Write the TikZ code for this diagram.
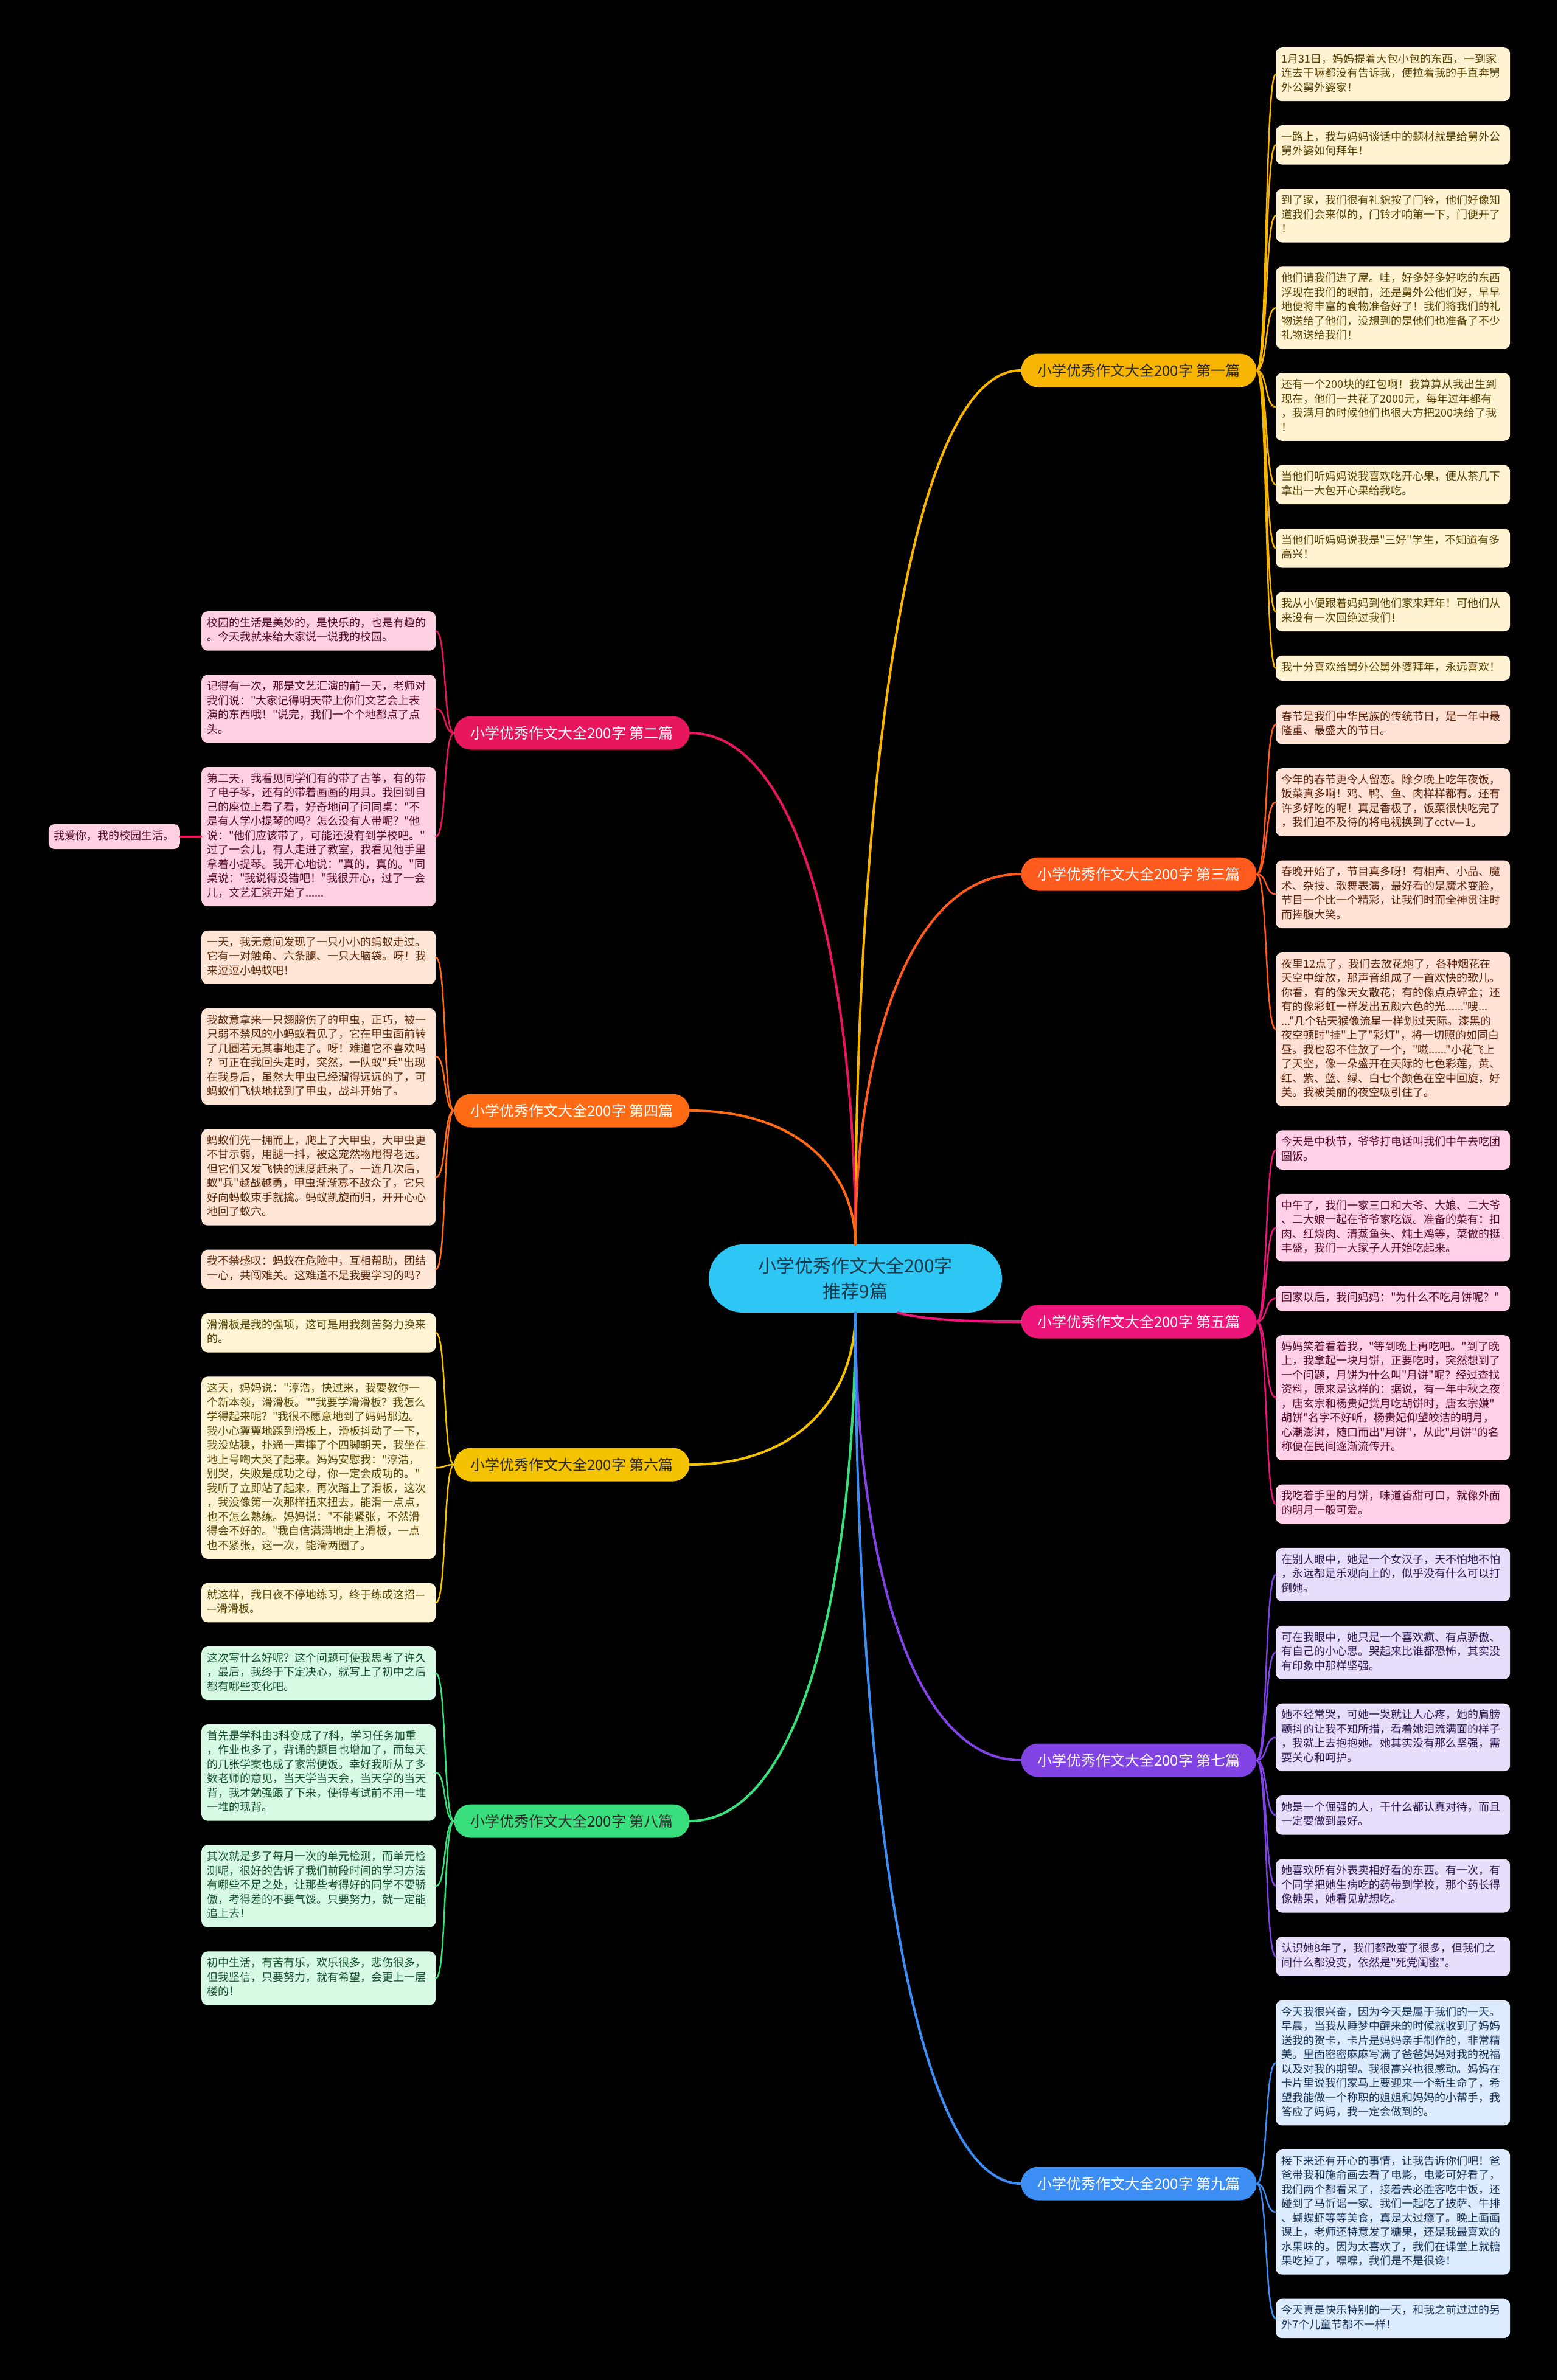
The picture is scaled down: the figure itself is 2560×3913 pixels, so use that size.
\documentclass[tikz,border=0pt]{standalone}
\usepackage{fontspec}
\setmainfont{Noto Sans CJK SC}[Ligatures=TeXOff]
\usetikzlibrary{positioning, calc}
\definecolor{yel}{HTML}{F7B500}
\definecolor{yelbg}{HTML}{FFF3D1}
\definecolor{pnk}{HTML}{E8175D}
\definecolor{pnkbg}{HTML}{FFCFE2}
\definecolor{org}{HTML}{FF5B1E}
\definecolor{orgbg}{HTML}{FFE2D5}
\definecolor{amb}{HTML}{FF6B14}
\definecolor{ambbg}{HTML}{FFE5D6}
\definecolor{mag}{HTML}{EE157A}
\definecolor{magbg}{HTML}{FFD0E7}
\definecolor{gld}{HTML}{F5C200}
\definecolor{gldbg}{HTML}{FFF4D4}
\definecolor{pur}{HTML}{8143E4}
\definecolor{purbg}{HTML}{E7DEFB}
\definecolor{grn}{HTML}{3ADF7D}
\definecolor{grnbg}{HTML}{D7FAE5}
\definecolor{blu}{HTML}{3D8EF4}
\definecolor{blubg}{HTML}{DDEBFF}
\definecolor{cya}{HTML}{2EC6F5}
\definecolor{cyatx}{HTML}{1A3A4A}
\tikzset{
  every picture/.style={line cap=round, x=1pt, y=1pt},
  leaf/.style={fill=#1bg, text=#1!35!black, rounded corners=10pt, align=left, inner xsep=9pt, inner ysep=8.75pt,
    font=\fontsize{18}{23.5}\selectfont, execute at begin node=\strut, execute at end node=\strut},
  wide/.style={text width=367pt},
  pian/.style={fill=#1, text=white, rounded corners=27.5pt, minimum width=387pt, minimum height=55pt, inner sep=0pt,
    font=\fontsize{24}{28}\selectfont},
  dark/.style={text=black!85},
  stem/.style={draw=#1, line width=4pt},
  twig/.style={draw=#1, line width=2.5pt},
}

\begin{document}
\begin{tikzpicture}
  \fill[black] (0,0) rectangle (2560,-3913);
  % centre
  \node[fill=cya, text=cyatx, rounded corners=56pt, minimum width=482pt, minimum height=112pt, align=center,
    font=\fontsize{30}{42}\selectfont] (root) at (1406,-2102) {小学优秀作文大全200字\\推荐9篇};
  % branches
  \node[pian=yel, dark] (p1) at (1872,-609) {小学优秀作文大全200字 第一篇};
  \node[pian=pnk] (p2) at (940,-1205) {小学优秀作文大全200字 第二篇};
  \node[pian=org] (p3) at (1872,-1437) {小学优秀作文大全200字 第三篇};
  \node[pian=amb] (p4) at (940,-1826) {小学优秀作文大全200字 第四篇};
  \node[pian=mag] (p5) at (1872,-2173) {小学优秀作文大全200字 第五篇};
  \node[pian=gld, dark] (p6) at (940,-2408) {小学优秀作文大全200字 第六篇};
  \node[pian=pur] (p7) at (1872,-2894) {小学优秀作文大全200字 第七篇};
  \node[pian=grn, dark] (p8) at (940,-2994) {小学优秀作文大全200字 第八篇};
  \node[pian=blu] (p9) at (1872,-3590) {小学优秀作文大全200字 第九篇};

  % right column
  \node[leaf=yel, wide, anchor=north west] (p1a) at (2097,-78) {1月31日，妈妈提着大包小包的东西，一到家\\连去干嘛都没有告诉我，便拉着我的手直奔舅\\外公舅外婆家！};
  \node[leaf=yel, wide, below=39.5pt of p1a] (p1b) {一路上，我与妈妈谈话中的题材就是给舅外公\\舅外婆如何拜年！};
  \node[leaf=yel, wide, below=39.5pt of p1b] (p1c) {到了家，我们很有礼貌按了门铃，他们好像知\\道我们会来似的，门铃才响第一下，门便开了\\！};
  \node[leaf=yel, wide, below=39.5pt of p1c] (p1d) {他们请我们进了屋。哇，好多好多好吃的东西\\浮现在我们的眼前，还是舅外公他们好，早早\\地便将丰富的食物准备好了！我们将我们的礼\\物送给了他们，没想到的是他们也准备了不少\\礼物送给我们！};
  \node[leaf=yel, wide, below=39.5pt of p1d] (p1e) {还有一个200块的红包啊！我算算从我出生到\\现在，他们一共花了2000元，每年过年都有\\，我满月的时候他们也很大方把200块给了我\\！};
  \node[leaf=yel, wide, below=39.5pt of p1e] (p1f) {当他们听妈妈说我喜欢吃开心果，便从茶几下\\拿出一大包开心果给我吃。};
  \node[leaf=yel, wide, below=39.5pt of p1f] (p1g) {当他们听妈妈说我是"三好"学生，不知道有多\\高兴！};
  \node[leaf=yel, wide, below=39.5pt of p1g] (p1h) {我从小便跟着妈妈到他们家来拜年！可他们从\\来没有一次回绝过我们！};
  \node[leaf=yel, wide, below=39.5pt of p1h] (p1i) {我十分喜欢给舅外公舅外婆拜年，永远喜欢！};

  \node[leaf=org, wide, below=39.5pt of p1i] (p3a) {春节是我们中华民族的传统节日，是一年中最\\隆重、最盛大的节日。};
  \node[leaf=org, wide, below=39.5pt of p3a] (p3b) {今年的春节更令人留恋。除夕晚上吃年夜饭，\\饭菜真多啊！鸡、鸭、鱼、肉样样都有。还有\\许多好吃的呢！真是香极了，饭菜很快吃完了\\，我们迫不及待的将电视换到了cctv—1。};
  \node[leaf=org, wide, below=39.5pt of p3b] (p3c) {春晚开始了，节目真多呀！有相声、小品、魔\\术、杂技、歌舞表演，最好看的是魔术变脸，\\节目一个比一个精彩，让我们时而全神贯注时\\而捧腹大笑。};
  \node[leaf=org, wide, below=39.5pt of p3c] (p3d) {夜里12点了，我们去放花炮了，各种烟花在\\天空中绽放，那声音组成了一首欢快的歌儿。\\你看，有的像天女散花；有的像点点碎金；还\\有的像彩虹一样发出五颜六色的光......"嗖...\\..."几个钻天猴像流星一样划过天际。漆黑的\\夜空顿时"挂"上了"彩灯"，将一切照的如同白\\昼。我也忍不住放了一个，"嗞......"小花飞上\\了天空，像一朵盛开在天际的七色彩莲，黄、\\红、紫、蓝、绿、白七个颜色在空中回旋，好\\美。我被美丽的夜空吸引住了。};

  \node[leaf=mag, wide, below=39.5pt of p3d] (p5a) {今天是中秋节，爷爷打电话叫我们中午去吃团\\圆饭。};
  \node[leaf=mag, wide, below=39.5pt of p5a] (p5b) {中午了，我们一家三口和大爷、大娘、二大爷\\、二大娘一起在爷爷家吃饭。准备的菜有：扣\\肉、红烧肉、清蒸鱼头、炖土鸡等，菜做的挺\\丰盛，我们一大家子人开始吃起来。};
  \node[leaf=mag, wide, below=39.5pt of p5b] (p5c) {回家以后，我问妈妈："为什么不吃月饼呢？"};
  \node[leaf=mag, wide, below=39.5pt of p5c] (p5d) {妈妈笑着看着我，"等到晚上再吃吧。"到了晚\\上，我拿起一块月饼，正要吃时，突然想到了\\一个问题，月饼为什么叫"月饼"呢？经过查找\\资料，原来是这样的：据说，有一年中秋之夜\\，唐玄宗和杨贵妃赏月吃胡饼时，唐玄宗嫌"\\胡饼"名字不好听，杨贵妃仰望皎洁的明月，\\心潮澎湃，随口而出"月饼"，从此"月饼"的名\\称便在民间逐渐流传开。};
  \node[leaf=mag, wide, below=39.5pt of p5d] (p5e) {我吃着手里的月饼，味道香甜可口，就像外面\\的明月一般可爱。};

  \node[leaf=pur, wide, below=39.5pt of p5e] (p7a) {在别人眼中，她是一个女汉子，天不怕地不怕\\，永远都是乐观向上的，似乎没有什么可以打\\倒她。};
  \node[leaf=pur, wide, below=39.5pt of p7a] (p7b) {可在我眼中，她只是一个喜欢疯、有点骄傲、\\有自己的小心思。哭起来比谁都恐怖，其实没\\有印象中那样坚强。};
  \node[leaf=pur, wide, below=39.5pt of p7b] (p7c) {她不经常哭，可她一哭就让人心疼，她的肩膀\\颤抖的让我不知所措，看着她泪流满面的样子\\，我就上去抱抱她。她其实没有那么坚强，需\\要关心和呵护。};
  \node[leaf=pur, wide, below=39.5pt of p7c] (p7d) {她是一个倔强的人，干什么都认真对待，而且\\一定要做到最好。};
  \node[leaf=pur, wide, below=39.5pt of p7d] (p7e) {她喜欢所有外表卖相好看的东西。有一次，有\\个同学把她生病吃的药带到学校，那个药长得\\像糖果，她看见就想吃。};
  \node[leaf=pur, wide, below=39.5pt of p7e] (p7f) {认识她8年了，我们都改变了很多，但我们之\\间什么都没变，依然是"死党闺蜜"。};

  \node[leaf=blu, wide, below=39.5pt of p7f] (p9a) {今天我很兴奋，因为今天是属于我们的一天。\\早晨，当我从睡梦中醒来的时候就收到了妈妈\\送我的贺卡，卡片是妈妈亲手制作的，非常精\\美。里面密密麻麻写满了爸爸妈妈对我的祝福\\以及对我的期望。我很高兴也很感动。妈妈在\\卡片里说我们家马上要迎来一个新生命了，希\\望我能做一个称职的姐姐和妈妈的小帮手，我\\答应了妈妈，我一定会做到的。};
  \node[leaf=blu, wide, below=39.5pt of p9a] (p9b) {接下来还有开心的事情，让我告诉你们吧！爸\\爸带我和施俞画去看了电影，电影可好看了，\\我们两个都看呆了，接着去必胜客吃中饭，还\\碰到了马忻谣一家。我们一起吃了披萨、牛排\\、蝴蝶虾等等美食，真是太过瘾了。晚上画画\\课上，老师还特意发了糖果，还是我最喜欢的\\水果味的。因为太喜欢了，我们在课堂上就糖\\果吃掉了，嘿嘿，我们是不是很谗！};
  \node[leaf=blu, wide, below=39.5pt of p9b] (p9c) {今天真是快乐特别的一天，和我之前过过的另\\外7个儿童节都不一样！};

  % left column
  \node[leaf=pnk, wide, anchor=north west] (p2a) at (331,-1005) {校园的生活是美妙的，是快乐的，也是有趣的\\。今天我就来给大家说一说我的校园。};
  \node[leaf=pnk, wide, below=39.5pt of p2a] (p2b) {记得有一次，那是文艺汇演的前一天，老师对\\我们说："大家记得明天带上你们文艺会上表\\演的东西哦！"说完，我们一个个地都点了点\\头。};
  \node[leaf=pnk, wide, below=39.5pt of p2b] (p2c) {第二天，我看见同学们有的带了古筝，有的带\\了电子琴，还有的带着画画的用具。我回到自\\己的座位上看了看，好奇地问了问同桌："不\\是有人学小提琴的吗？怎么没有人带呢？"他\\说："他们应该带了，可能还没有到学校吧。"\\过了一会儿，有人走进了教室，我看见他手里\\拿着小提琴。我开心地说："真的，真的。"同\\桌说："我说得没错吧！"我很开心，过了一会\\儿，文艺汇演开始了......};
  \node[leaf=pnk, left=35pt of p2c] (love) {我爱你，我的校园生活。};

  \node[leaf=amb, wide, below=39.5pt of p2c] (p4a) {一天，我无意间发现了一只小小的蚂蚁走过。\\它有一对触角、六条腿、一只大脑袋。呀！我\\来逗逗小蚂蚁吧！};
  \node[leaf=amb, wide, below=39.5pt of p4a] (p4b) {我故意拿来一只翅膀伤了的甲虫，正巧，被一\\只弱不禁风的小蚂蚁看见了，它在甲虫面前转\\了几圈若无其事地走了。呀！难道它不喜欢吗\\？可正在我回头走时，突然，一队蚁"兵"出现\\在我身后，虽然大甲虫已经溜得远远的了，可\\蚂蚁们飞快地找到了甲虫，战斗开始了。};
  \node[leaf=amb, wide, below=39.5pt of p4b] (p4c) {蚂蚁们先一拥而上，爬上了大甲虫，大甲虫更\\不甘示弱，用腿一抖，被这宠然物甩得老远。\\但它们又发飞快的速度赶来了。一连几次后，\\蚁"兵"越战越勇，甲虫渐渐寡不敌众了，它只\\好向蚂蚁束手就擒。蚂蚁凯旋而归，开开心心\\地回了蚁穴。};
  \node[leaf=amb, wide, below=39.5pt of p4c] (p4d) {我不禁感叹：蚂蚁在危险中，互相帮助，团结\\一心，共闯难关。这难道不是我要学习的吗？};

  \node[leaf=gld, wide, below=39.5pt of p4d] (p6a) {滑滑板是我的强项，这可是用我刻苦努力换来\\的。};
  \node[leaf=gld, wide, below=39.5pt of p6a] (p6b) {这天，妈妈说："淳浩，快过来，我要教你一\\个新本领，滑滑板。""我要学滑滑板？我怎么\\学得起来呢？"我很不愿意地到了妈妈那边。\\我小心翼翼地踩到滑板上，滑板抖动了一下，\\我没站稳，扑通一声摔了个四脚朝天，我坐在\\地上号啕大哭了起来。妈妈安慰我："淳浩，\\别哭，失败是成功之母，你一定会成功的。"\\我听了立即站了起来，再次踏上了滑板，这次\\，我没像第一次那样扭来扭去，能滑一点点，\\也不怎么熟练。妈妈说："不能紧张，不然滑\\得会不好的。"我自信满满地走上滑板，一点\\也不紧张，这一次，能滑两圈了。};
  \node[leaf=gld, wide, below=39.5pt of p6b] (p6c) {就这样，我日夜不停地练习，终于练成这招—\\—滑滑板。};

  \node[leaf=grn, wide, below=39.5pt of p6c] (p8a) {这次写什么好呢？这个问题可使我思考了许久\\，最后，我终于下定决心，就写上了初中之后\\都有哪些变化吧。};
  \node[leaf=grn, wide, below=39.5pt of p8a] (p8b) {首先是学科由3科变成了7科，学习任务加重\\，作业也多了，背诵的题目也增加了，而每天\\的几张学案也成了家常便饭。幸好我听从了多\\数老师的意见，当天学当天会，当天学的当天\\背，我才勉强跟了下来，使得考试前不用一堆\\一堆的现背。};
  \node[leaf=grn, wide, below=39.5pt of p8b] (p8c) {其次就是多了每月一次的单元检测，而单元检\\测呢，很好的告诉了我们前段时间的学习方法\\有哪些不足之处，让那些考得好的同学不要骄\\傲，考得差的不要气馁。只要努力，就一定能\\追上去！};
  \node[leaf=grn, wide, below=39.5pt of p8c] (p8d) {初中生活，有苦有乐，欢乐很多，悲伤很多，\\但我坚信，只要努力，就有希望，会更上一层\\楼的！};

  % centre to branches
  \draw[stem=yel] (root.north) .. controls ($(root.north)!0.5!(root.north |- p1.west)$) and ($(p1.west)!0.7!(root.north |- p1.west)$) .. (p1.west);
  \draw[stem=pnk] (root.north) .. controls ($(root.north)!0.5!(root.north |- p2.east)$) and ($(p2.east)!0.7!(root.north |- p2.east)$) .. (p2.east);
  \draw[stem=org] (root.north) .. controls ($(root.north)!0.5!(root.north |- p3.west)$) and ($(p3.west)!0.7!(root.north |- p3.west)$) .. (p3.west);
  \draw[stem=amb] (root.north) .. controls ($(root.north)!0.5!(root.north |- p4.east)$) and ($(p4.east)!0.7!(root.north |- p4.east)$) .. (p4.east);
  \draw[stem=mag] ([xshift=70pt]root.south) .. controls +(45,-12) and +(-90,0) .. (p5.west);
  \draw[stem=gld] (root.south) .. controls ($(root.south)!0.5!(root.south |- p6.east)$) and ($(p6.east)!0.7!(root.south |- p6.east)$) .. (p6.east);
  \draw[stem=pur] (root.south) .. controls ($(root.south)!0.5!(root.south |- p7.west)$) and ($(p7.west)!0.7!(root.south |- p7.west)$) .. (p7.west);
  \draw[stem=grn] (root.south) .. controls ($(root.south)!0.5!(root.south |- p8.east)$) and ($(p8.east)!0.7!(root.south |- p8.east)$) .. (p8.east);
  \draw[stem=blu] (root.south) .. controls ($(root.south)!0.5!(root.south |- p9.west)$) and ($(p9.west)!0.7!(root.south |- p9.west)$) .. (p9.west);

  % branches to leaves
  \foreach \k in {a,...,i} \draw[twig=yel] (p1.east) .. controls +(18,0) and +(-18,0) .. (p1\k.west);
  \foreach \k in {a,...,d} \draw[twig=org] (p3.east) .. controls +(18,0) and +(-18,0) .. (p3\k.west);
  \foreach \k in {a,...,e} \draw[twig=mag] (p5.east) .. controls +(18,0) and +(-18,0) .. (p5\k.west);
  \foreach \k in {a,...,f} \draw[twig=pur] (p7.east) .. controls +(18,0) and +(-18,0) .. (p7\k.west);
  \foreach \k in {a,...,c} \draw[twig=blu] (p9.east) .. controls +(18,0) and +(-18,0) .. (p9\k.west);
  \foreach \k in {a,...,c} \draw[twig=pnk] (p2.west) .. controls +(-18,0) and +(18,0) .. (p2\k.east);
  \foreach \k in {a,...,d} \draw[twig=amb] (p4.west) .. controls +(-18,0) and +(18,0) .. (p4\k.east);
  \foreach \k in {a,...,c} \draw[twig=gld] (p6.west) .. controls +(-18,0) and +(18,0) .. (p6\k.east);
  \foreach \k in {a,...,d} \draw[twig=grn] (p8.west) .. controls +(-18,0) and +(18,0) .. (p8\k.east);
  \draw[twig=pnk] (p2c.west) -- (love.east);
\end{tikzpicture}
\end{document}
